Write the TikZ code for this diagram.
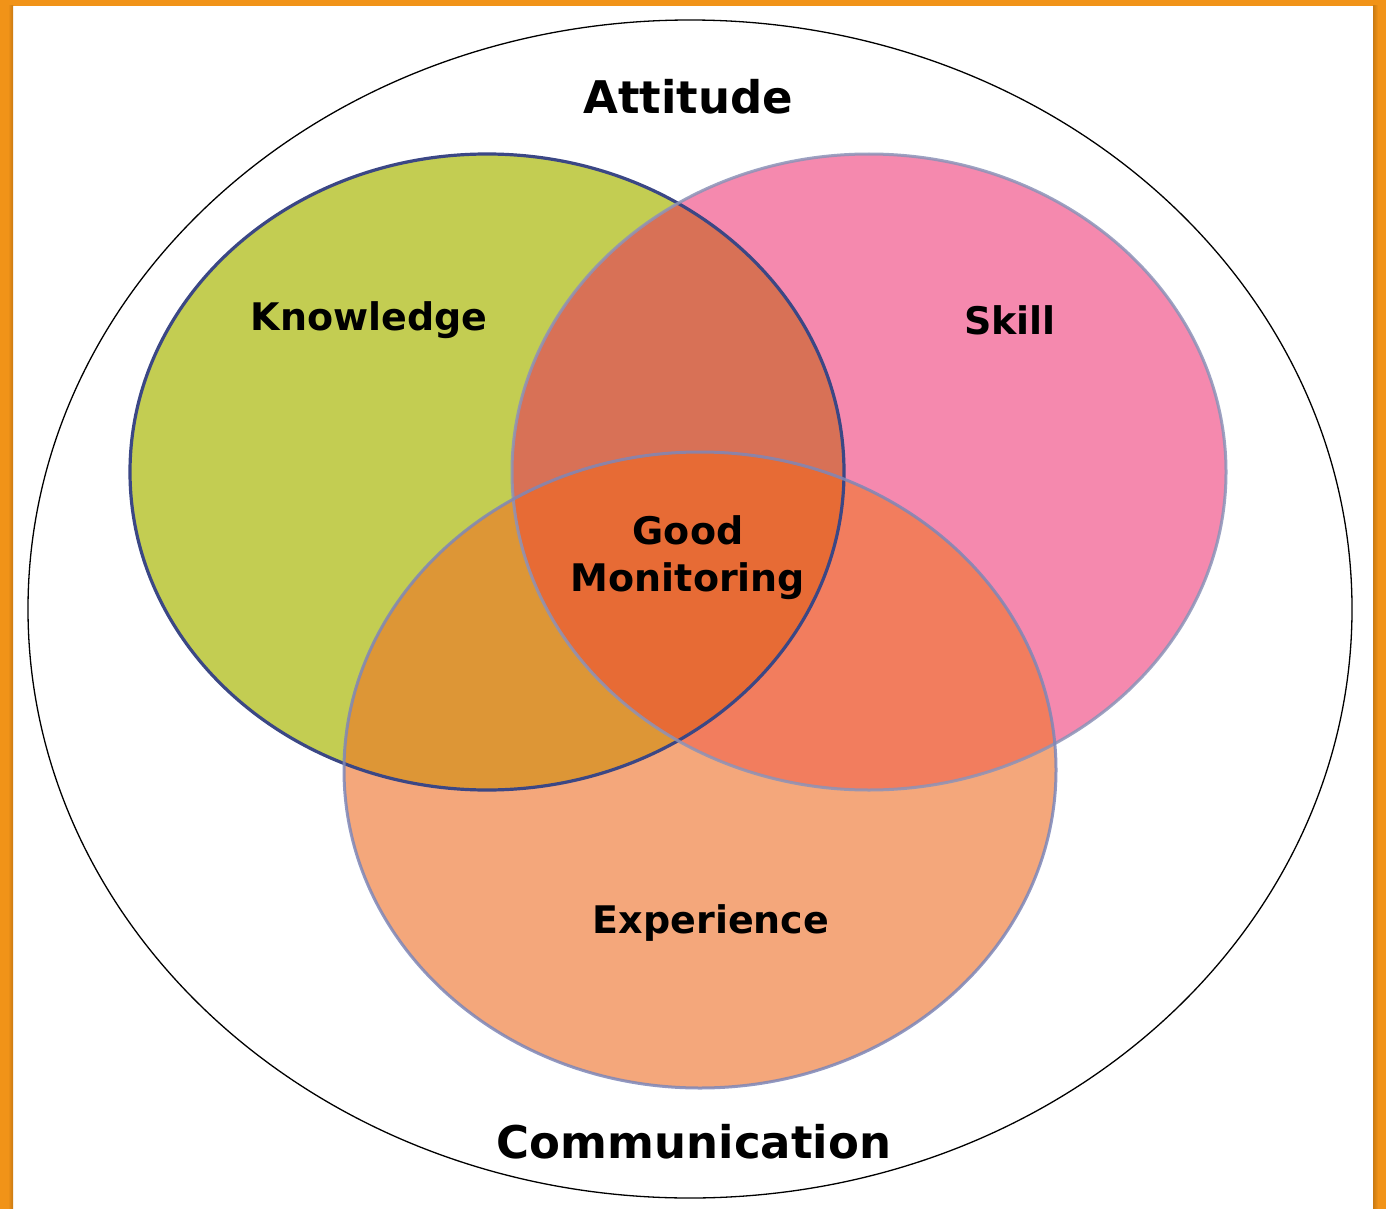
\documentclass[tikz,border=0pt]{standalone}
\usepackage{fontspec}
\setmainfont{DejaVu Sans}
\definecolor{frameor}{HTML}{F19318}
\definecolor{framedk}{HTML}{C97A12}
\definecolor{kgreen}{HTML}{C3CD52}
\definecolor{spink}{HTML}{F589AE}
\definecolor{epeach}{HTML}{F4A77B}
\definecolor{ks}{HTML}{D87156}
\definecolor{ke}{HTML}{DD9636}
\definecolor{se}{HTML}{F27D5E}
\definecolor{kse}{HTML}{E76B35}
\definecolor{kline}{HTML}{3B4785}
\definecolor{sline}{HTML}{8C93B8}
\definecolor{eline}{HTML}{7E87B8}
\tikzset{
  lbl/.style={font=\bfseries, text=black, align=center, inner sep=0pt},
}
\begin{document}
\begin{tikzpicture}[x=1pt,y=-1pt]
\useasboundingbox (0,0) rectangle (1386,1209);
% frame
\fill[frameor] (0,0) rectangle (1386,1209);
\fill[white] (13,6) rectangle (1373,1209);
\shade[left color=frameor, right color=framedk] (8,6) rectangle (13,1209);
\shade[left color=framedk, right color=frameor] (1373,6) rectangle (1378,1209);
% outer ellipse
\draw[black, line width=1.3pt] (690,609) ellipse [x radius=662pt, y radius=589pt];
% base fills
\def\Kpath{(487,472) ellipse [x radius=357pt, y radius=318pt]}
\def\Spath{(869,472) ellipse [x radius=357pt, y radius=318pt]}
\def\Epath{(700,770) ellipse [x radius=356pt, y radius=318pt]}
\fill[kgreen] \Kpath;
\fill[spink] \Spath;
\fill[epeach] \Epath;
\begin{scope}
  \clip \Kpath;
  \fill[ks] \Spath;
  \fill[ke] \Epath;
\end{scope}
\begin{scope}
  \clip \Spath;
  \fill[se] \Epath;
\end{scope}
\begin{scope}
  \clip \Kpath;
  \clip \Spath;
  \fill[kse] \Epath;
\end{scope}
% outlines
\draw[kline, line width=3.2pt] \Kpath;
\draw[sline, line width=3pt, opacity=0.85] \Spath;
\draw[eline, line width=3pt, opacity=0.85] \Epath;
% labels
\node[lbl, font=\fontsize{45}{54}\selectfont\bfseries] (att) at (688,97) {Attitude};
\node[lbl, font=\fontsize{38}{46}\selectfont\bfseries] (kn) at (369,320) {Knowledge};
\node[lbl, font=\fontsize{38}{46}\selectfont\bfseries] (sk) at (1010,320) {Skill};
\node[lbl, font=\fontsize{38}{47}\selectfont\bfseries] (gm) at (688,558) {Good\\Monitoring};
\node[lbl, font=\fontsize{38}{46}\selectfont\bfseries] (ex) at (711,923) {Experience};
\node[lbl, font=\fontsize{45}{54}\selectfont\bfseries] (com) at (694,1142) {Communication};
\end{tikzpicture}
\end{document}
